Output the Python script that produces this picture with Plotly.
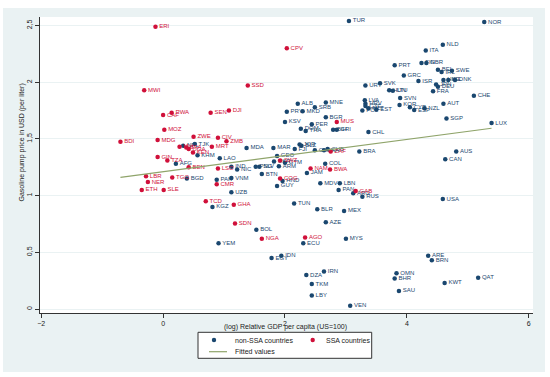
import plotly.graph_objects as go

# ---- data ----
nonssa_codes = ["TUR","NOR","NLD","ITA","PRT","FIN","GBR","SWE","GRC","ISR","URY","SVK",
    "BEL","IRL","HKG","ISL","DNK","DEU","JPN","FRA","CHE","AUT","SGP","LUX","HUN","LTU",
    "SVN","KOR","CYP","ESP","NZL","EST","LVA","HRV","CZE","POL","MLT","MNE","ALB","SRB",
    "PRY","MKD","BGR","KSV","PER","DOM","THA","BIH","CRI","CHL","MDA","MAR","FJI","JOR",
    "BLZ","CHN","LKA","CUB","BRA","TJK","NPL","KHM","AFG","LAO","IND","NIC","PNG","SLV",
    "UKR","GEO","ARM","GTM","BTN","JAM","HND","PAK","VNM","GUY","UZB","BGD","KGZ","TUN",
    "BLR","COL","MDV","LBN","PAN","ARG","RUS","MEX","AZE","BOL","MYS","YEM","ECU","EGY",
    "IDN","IRN","DZA","TKM","LBY","ARE","BRN","OMN","BHR","SAU","VEN","KWT","QAT","USA",
    "CAN","AUS"]
nonssa_x = [3.05,5.27,4.59,4.31,3.80,4.24,4.32,4.74,3.95,4.19,3.32,3.56,
    4.51,4.57,4.60,4.68,4.79,4.51,4.48,4.43,5.10,4.60,4.65,5.39,3.71,3.77,
    3.89,3.88,4.05,4.12,4.29,3.50,3.31,3.32,3.32,3.27,3.37,2.67,2.21,2.49,
    2.03,2.29,2.67,2.00,2.44,2.26,2.34,2.79,2.85,3.37,1.37,1.81,2.16,2.24,
    2.27,2.49,2.64,2.70,3.22,0.52,0.33,0.565,0.21,0.93,1.12,1.215,1.52,1.58,
    1.82,1.87,1.90,2.00,1.62,2.36,1.96,0.88,1.12,1.87,1.12,0.39,0.81,2.15,
    2.53,2.66,2.58,2.90,2.88,3.12,3.27,2.97,2.67,1.53,3.00,0.91,2.30,1.78,
    1.94,2.64,2.35,2.44,2.44,4.35,4.41,3.83,3.80,3.87,3.07,4.62,5.17,4.59,
    4.63,4.81]
nonssa_y = [2.54,2.53,2.33,2.28,2.15,2.17,2.17,2.10,2.06,2.01,1.97,1.99,
    2.11,2.09,2.02,2.02,2.02,1.96,1.98,1.92,1.88,1.81,1.68,1.64,1.93,1.925,
    1.86,1.80,1.78,1.755,1.77,1.76,1.84,1.81,1.79,1.75,1.77,1.82,1.81,1.78,
    1.74,1.745,1.69,1.65,1.63,1.59,1.57,1.58,1.58,1.56,1.42,1.42,1.41,1.45,
    1.44,1.40,1.40,1.41,1.39,1.455,1.44,1.355,1.28,1.33,1.255,1.23,1.255,1.255,
    1.30,1.35,1.26,1.29,1.19,1.20,1.13,1.14,1.155,1.085,1.03,1.15,0.90,0.93,
    0.88,1.28,1.11,1.11,1.05,1.02,0.99,0.865,0.765,0.70,0.62,0.58,0.58,0.45,
    0.47,0.33,0.30,0.22,0.12,0.47,0.43,0.315,0.27,0.16,0.03,0.23,0.275,0.97,
    1.32,1.39]

ssa_codes = ["ERI","CPV","SSD","MWI","RWA","CAF","SEN","DJI","MOZ","MDG","BDI","ZWE",
    "CIV","ZMB","MRT","MLI","BFA","UGA","KEN","GIN","TZA","BEN","LBR","TGO","NER","ETH",
    "SLE","LSO","SWZ","NAM","COG","CMR","ZAF","BWA","MUS","GAB","TCD","GHA","SDN","NGA","AGO"]
ssa_x = [-0.125,2.03,1.39,-0.31,0.14,0.00,0.78,1.08,0.02,-0.09,-0.70,0.50,
    0.90,1.04,0.80,0.27,0.38,0.42,0.49,-0.09,0.07,0.42,-0.28,0.15,-0.25,-0.35,
    0.01,0.90,1.92,2.42,1.92,0.88,2.75,2.74,2.85,3.16,0.70,1.16,1.18,1.62,2.33]
ssa_y = [2.49,2.30,1.97,1.93,1.73,1.71,1.73,1.75,1.58,1.49,1.475,1.52,
    1.51,1.48,1.43,1.43,1.425,1.41,1.38,1.34,1.31,1.25,1.17,1.16,1.12,1.05,
    1.05,1.24,1.31,1.24,1.15,1.10,1.39,1.23,1.65,1.04,0.95,0.92,0.755,0.62,0.63]

fit_x = [-0.70, 5.39]
fit_y = [1.161, 1.594]

x_ticks = [-2, 0, 2, 4, 6]
y_ticks = [0, 0.5, 1, 1.5, 2, 2.5]
y_ticklabels = ["0", "0,5", "1", "1,5", "2", "2,5"]

# ---- styling ----
BLUE = "#1a476f"
RED = "#d0103a"
GREEN = "#8fa46a"
BG = "#eaf2f3"
FONT = "Liberation Sans, Arial, sans-serif"

W, H = 550, 377
L, R, T, B = 40, 17, 17, 64
pw, ph = W - L - R, H - T - B

def px(xp):  # pixel x -> paper
    return (xp - L) / pw

def py(yp):  # pixel y -> paper
    return (H - B - yp) / ph

fig = go.Figure()
fig.add_trace(go.Scatter(x=nonssa_x, y=nonssa_y, text=nonssa_codes, mode="markers+text",
    textposition="middle right", marker=dict(color=BLUE, size=4.5),
    textfont=dict(color=BLUE, size=6, family=FONT), name="non-SSA countries",
    cliponaxis=False, showlegend=False))
fig.add_trace(go.Scatter(x=ssa_x, y=ssa_y, text=ssa_codes, mode="markers+text",
    textposition="middle right", marker=dict(color=RED, size=4.5),
    textfont=dict(color=RED, size=6, family=FONT), name="SSA countries",
    cliponaxis=False, showlegend=False))
fig.add_trace(go.Scatter(x=fit_x, y=fit_y, mode="lines", line=dict(color=GREEN, width=1.2),
    name="Fitted values", showlegend=False))

shapes = [
    dict(type="rect", xref="paper", yref="paper", x0=px(3), x1=px(545), y0=py(372), y1=py(8),
         fillcolor=BG, line=dict(width=0), layer="below"),
    dict(type="rect", xref="paper", yref="paper", x0=0, x1=1, y0=0, y1=1,
         fillcolor="white", line=dict(width=0), layer="below"),
    # legend box
    dict(type="rect", xref="paper", yref="paper", x0=px(198), x1=px(371.7), y0=py(358.3), y1=py(332.3),
         fillcolor="white", line=dict(color="#333333", width=1)),
    dict(type="circle", xref="paper", yref="paper", xsizemode="pixel", ysizemode="pixel",
         xanchor=px(214), yanchor=py(340), x0=-2.2, x1=2.2, y0=-2.2, y1=2.2,
         fillcolor=BLUE, line=dict(width=0)),
    dict(type="circle", xref="paper", yref="paper", xsizemode="pixel", ysizemode="pixel",
         xanchor=px(312.7), yanchor=py(340), x0=-2.2, x1=2.2, y0=-2.2, y1=2.2,
         fillcolor=RED, line=dict(width=0)),
    dict(type="line", xref="paper", yref="paper", x0=px(209), x1=px(227), y0=py(351.7), y1=py(351.7),
         line=dict(color=GREEN, width=1.2)),
]

annotations = [
    dict(text="non-SSA countries", x=px(233), y=py(340), xref="paper", yref="paper",
         xanchor="left", yanchor="middle", showarrow=False, font=dict(size=7, color="#222", family=FONT)),
    dict(text="SSA countries", x=px(324), y=py(340), xref="paper", yref="paper",
         xanchor="left", yanchor="middle", showarrow=False, font=dict(size=7, color="#222", family=FONT)),
    dict(text="Fitted values", x=px(233), y=py(351.7), xref="paper", yref="paper",
         xanchor="left", yanchor="middle", showarrow=False, font=dict(size=7, color="#222", family=FONT)),
    dict(text="(log) Relative GDP per capita (US=100)", x=px(285), y=py(327), xref="paper", yref="paper",
         xanchor="center", yanchor="middle", showarrow=False, font=dict(size=7, color="#222", family=FONT)),
    dict(text="Gasoline pump price in USD (per liter)", x=px(21.5), y=py(143), xref="paper", yref="paper",
         xanchor="center", yanchor="middle", textangle=-90, showarrow=False,
         font=dict(size=7, color="#222", family=FONT)),
]

fig.update_layout(
    width=W, height=H, margin=dict(l=L, r=R, t=T, b=B),
    paper_bgcolor="white", plot_bgcolor="white",
    shapes=shapes, annotations=annotations, showlegend=False,
    font=dict(family=FONT, size=7, color="#222"),
    xaxis=dict(range=[-2.02, 6.07], tickvals=x_ticks, ticks="outside", ticklen=4, tickcolor="#333",
               showline=True, linecolor="#333", linewidth=1, showgrid=False, zeroline=False,
               tickfont=dict(size=7, color="#222")),
    yaxis=dict(range=[-0.035, 2.575], tickvals=y_ticks, ticktext=y_ticklabels, tickangle=-90,
               ticks="outside", ticklen=4, tickcolor="#333",
               showline=True, linecolor="#333", linewidth=1, showgrid=True, gridcolor=BG,
               gridwidth=1, zeroline=False, tickfont=dict(size=7, color="#222")),
)

fig.write_html("out.html", config={"displayModeBar": False},
               post_script="document.body.style.margin='0';document.body.style.overflow='hidden';")
